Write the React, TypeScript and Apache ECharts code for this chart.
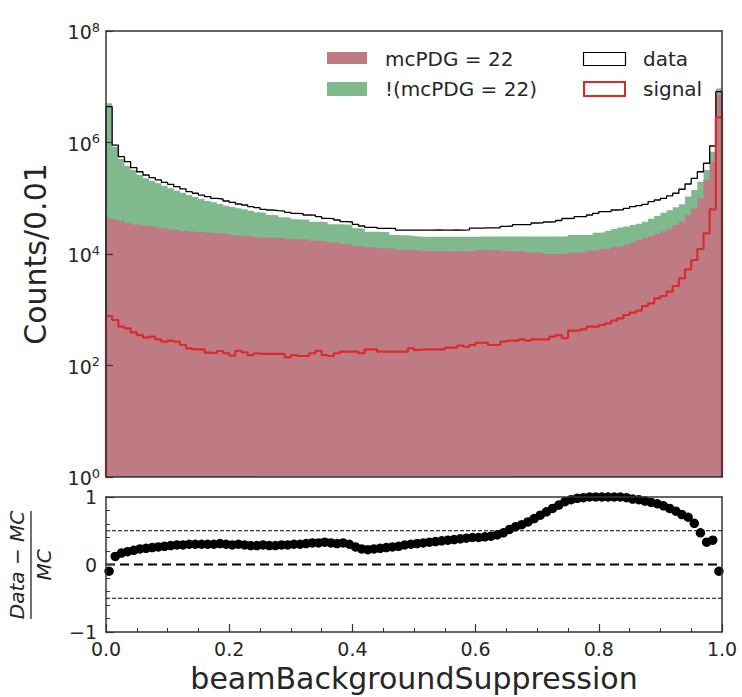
import React, { useEffect, useRef } from "react";
import * as echarts from "echarts";

const N_BINS = 100;
const BIN_WIDTH = 0.01;

// Black step histogram: data
const dataCounts = [
  4.39e6, 9.0e5, 5.56e5, 4.53e5, 3.53e5, 2.99e5, 2.61e5, 2.34e5, 2.13e5, 1.93e5,
  1.78e5, 1.61e5, 1.47e5, 1.31e5, 1.23e5, 1.14e5, 1.07e5, 9.98e4, 9.7e4, 8.93e4,
  8.46e4, 7.89e4, 7.57e4, 7.05e4, 6.77e4, 6.34e4, 6.15e4, 5.98e4, 5.9e4, 5.6e4,
  5.37e4, 5.3e4, 5.01e4, 5.0e4, 4.67e4, 4.37e4, 4.3e4, 4.07e4, 3.8e4, 3.75e4,
  3.41e4, 3.18e4, 3.01e4, 3.0e4, 2.89e4, 2.88e4, 2.87e4, 2.69e4, 2.69e4, 2.68e4,
  2.69e4, 2.69e4, 2.68e4, 2.7e4, 2.69e4, 2.68e4, 2.7e4, 2.69e4, 2.7e4, 2.9e4,
  2.92e4, 2.93e4, 2.93e4, 2.95e4, 3.14e4, 3.16e4, 3.36e4, 3.37e4, 3.38e4, 3.6e4,
  3.62e4, 3.75e4, 3.77e4, 3.99e4, 4.33e4, 4.35e4, 4.67e4, 4.7e4, 5.01e4, 5.37e4,
  5.74e4, 5.76e4, 6.15e4, 6.17e4, 6.6e4, 7.05e4, 7.35e4, 7.79e4, 8.67e4, 9.3e4,
  9.98e4, 1.1e5, 1.23e5, 1.45e5, 1.8e5, 2.28e5, 2.99e5, 4.24e5, 8.65e5, 8.15e6,
];

// Top of the stacked MC (mcPDG = 22 + !(mcPDG = 22))
const mcTotal = [
  5.05e6, 8.41e5, 5.06e5, 3.84e5, 3.21e5, 2.61e5, 2.28e5, 2.04e5, 1.85e5, 1.68e5,
  1.51e5, 1.37e5, 1.26e5, 1.14e5, 1.05e5, 9.7e4, 8.93e4, 8.46e4, 7.89e4, 7.35e4,
  6.97e4, 6.6e4, 6.34e4, 5.98e4, 5.6e4, 5.51e4, 5.01e4, 4.95e4, 4.55e4, 4.5e4,
  4.19e4, 4.15e4, 4.1e4, 3.8e4, 3.78e4, 3.75e4, 3.41e4, 3.4e4, 3.38e4, 3.35e4,
  2.89e4, 2.87e4, 2.51e4, 2.5e4, 2.48e4, 2.46e4, 2.19e4, 2.18e4, 2.16e4, 2.1e4,
  2.05e4, 2.04e4, 2.04e4, 2.03e4, 2.03e4, 2.04e4, 2.03e4, 2.04e4, 2.03e4, 2.04e4,
  2.05e4, 2.06e4, 2.06e4, 2.06e4, 2.06e4, 2.05e4, 2.06e4, 2.05e4, 2.06e4, 2.06e4,
  2.07e4, 2.06e4, 2.07e4, 2.07e4, 2.08e4, 2.19e4, 2.19e4, 2.2e4, 2.2e4, 2.41e4,
  2.43e4, 2.6e4, 2.8e4, 3.0e4, 3.1e4, 3.3e4, 3.5e4, 3.8e4, 4.3e4, 4.8e4,
  5.5e4, 6.1e4, 6.9e4, 7.8e4, 1.07e5, 1.41e5, 1.98e5, 3.21e5, 6.84e5, 9.3e6,
];

// mcPDG = 22 component
const mcPhoton = [
  4.37e4, 4.21e4, 3.91e4, 3.65e4, 3.38e4, 3.3e4, 3.18e4, 3.09e4, 2.98e4, 2.86e4,
  2.75e4, 2.69e4, 2.58e4, 2.53e4, 2.48e4, 2.45e4, 2.4e4, 2.38e4, 2.34e4, 2.28e4,
  2.19e4, 2.14e4, 2.1e4, 2.04e4, 1.97e4, 1.96e4, 1.96e4, 1.95e4, 1.95e4, 1.85e4,
  1.84e4, 1.84e4, 1.83e4, 1.72e4, 1.71e4, 1.7e4, 1.6e4, 1.6e4, 1.51e4, 1.5e4,
  1.39e4, 1.38e4, 1.32e4, 1.31e4, 1.27e4, 1.27e4, 1.26e4, 1.18e4, 1.18e4, 1.18e4,
  1.17e4, 1.13e4, 1.13e4, 1.13e4, 1.13e4, 1.12e4, 1.13e4, 1.13e4, 1.12e4, 1.13e4,
  1.18e4, 1.18e4, 1.17e4, 1.18e4, 1.13e4, 1.13e4, 1.12e4, 1.13e4, 1.06e4, 1.06e4,
  1.05e4, 1.0e4, 1.0e4, 1.01e4, 1.0e4, 1.06e4, 1.06e4, 1.07e4, 1.15e4, 1.16e4,
  1.23e4, 1.24e4, 1.35e4, 1.36e4, 1.5e4, 1.62e4, 1.78e4, 1.92e4, 2.1e4, 2.3e4,
  2.55e4, 2.85e4, 3.3e4, 3.8e4, 5.01e4, 6.6e4, 9.98e4, 2.13e5, 4.53e5, 7.11e6,
];

// Red step histogram: signal
const signalCounts = [
  773, 655, 497, 465, 394, 352, 315, 329, 295, 267,
  279, 267, 233, 203, 195, 195, 170, 166, 182, 166,
  150, 184, 173, 154, 166, 161, 161, 161, 161, 140,
  154, 148, 148, 166, 184, 154, 148, 166, 177, 177,
  177, 166, 195, 195, 177, 177, 177, 177, 177, 203,
  190, 195, 195, 195, 195, 209, 209, 227, 217, 233,
  256, 256, 233, 233, 267, 279, 279, 295, 279, 295,
  295, 295, 329, 352, 308, 421, 421, 446, 497, 497,
  533, 571, 636, 703, 805, 885, 962, 1167, 1306, 1604,
  1765, 2108, 2669, 3665, 5320, 7800, 12300, 23500, 63400, 2.81e6,
];

// (Data - MC) / MC per bin
const ratioValues = [
  -0.1, 0.12, 0.17, 0.19, 0.21, 0.23, 0.24, 0.25, 0.26, 0.27,
  0.28, 0.29, 0.29, 0.3, 0.3, 0.3, 0.3, 0.3, 0.31, 0.3,
  0.29, 0.3, 0.29, 0.28, 0.28, 0.29, 0.28, 0.28, 0.29, 0.29,
  0.3, 0.3, 0.31, 0.32, 0.32, 0.33, 0.32, 0.31, 0.32, 0.3,
  0.26, 0.23, 0.22, 0.23, 0.24, 0.25, 0.26, 0.27, 0.29, 0.3,
  0.31, 0.32, 0.33, 0.34, 0.35, 0.36, 0.37, 0.38, 0.39, 0.4,
  0.4, 0.41, 0.42, 0.44, 0.47, 0.52, 0.56, 0.59, 0.63, 0.68,
  0.73, 0.78, 0.83, 0.88, 0.93, 0.96, 0.98, 0.99, 1.0, 1.0,
  1.0, 1.0, 1.0, 1.0, 0.99, 0.97, 0.96, 0.94, 0.92, 0.9,
  0.87, 0.83, 0.79, 0.74, 0.7, 0.61, 0.47, 0.33, 0.36, -0.1,
];

const countLabelExponents = [0, 2, 4, 6, 8];
const xTickLabels = ["0.0", "0.2", "0.4", "0.6", "0.8", "1.0"];
const ratioTickLabels = ["\u22121", "0", "1"];
const thinRefLines = [0.5, -0.5];
const thickRefLine = 0;

const legendEntries = ["mcPDG = 22", "!(mcPDG = 22)", "data", "signal"];

const FONT = "DejaVu Sans";
const TXT = "#262626";
const AX = "#333";
const C_PHOTON = "#bf7b83";
const C_OTHER = "#7fb98d";
const C_SIGNAL = "#dc2a2c";

function stepPoints(values: number[], closeToBase: boolean) {
  const pts: number[][] = values.map((v, i) => [i * BIN_WIDTH, v]);
  pts.push([N_BINS * BIN_WIDTH, values[values.length - 1]]);
  if (closeToBase) {
    pts.unshift([0, 1]);
    pts.push([N_BINS * BIN_WIDTH, 1]);
  }
  return pts;
}

export default function App() {
  const ref = useRef<HTMLDivElement>(null);

  useEffect(() => {
    document.body.style.margin = "0";
    if (!ref.current) return;
    const chart = echarts.init(ref.current, undefined, { renderer: "svg" });

    const axisLineStyle = { show: true, onZero: false, lineStyle: { color: AX, width: 1.5 } };

    const lineOnlyAxis = (extra: any) => ({
      axisLine: axisLineStyle,
      axisTick: { show: false },
      axisLabel: { show: false },
      splitLine: { show: false },
      z: 5,
      ...extra,
    });

    const option: any = {
      animation: false,
      backgroundColor: "#fff",
      grid: [
        { left: 106, top: 31, width: 616, height: 446 },
        { left: 106, top: 497, width: 616, height: 135 },
      ],
      xAxis: [
        lineOnlyAxis({ type: "value", gridIndex: 0, min: 0, max: 1, position: "bottom" }),
        lineOnlyAxis({ type: "value", gridIndex: 0, min: 0, max: 1, position: "top" }),
        {
          type: "value",
          gridIndex: 1,
          min: 0,
          max: 1,
          interval: 0.2,
          position: "bottom",
          z: 5,
          axisLine: axisLineStyle,
          axisTick: { show: true, inside: true, length: 8, lineStyle: { color: AX, width: 1.2 } },
          minorTick: { show: true, splitNumber: 4, length: 4, lineStyle: { color: AX, width: 1 } },
          axisLabel: {
            show: true,
            margin: 7,
            fontSize: 19,
            fontFamily: FONT,
            color: TXT,
            showMinLabel: true,
            showMaxLabel: true,
            formatter: (v: number) => xTickLabels[Math.round(v / 0.2)] ?? "",
          },
          splitLine: { show: false },
          name: "beamBackgroundSuppression",
          nameLocation: "middle",
          nameGap: 31,
          nameTextStyle: { fontSize: 30, fontFamily: FONT, color: TXT },
        },
        lineOnlyAxis({ type: "value", gridIndex: 1, min: 0, max: 1, position: "top" }),
      ],
      yAxis: [
        lineOnlyAxis({ type: "log", logBase: 10, gridIndex: 0, min: 1, max: 1e8, position: "left" }),
        {
          type: "value",
          gridIndex: 0,
          min: 0,
          max: 8,
          interval: 2,
          position: "left",
          z: 5,
          axisLine: { show: false, onZero: false },
          axisTick: { show: true, inside: true, length: 7, lineStyle: { color: AX, width: 1.2 } },
          axisLabel: {
            show: true,
            margin: 6,
            showMinLabel: true,
            showMaxLabel: true,
            formatter: (v: number) =>
              countLabelExponents.includes(v) ? `{b|10}{s|${v}}` : "",
            rich: {
              b: { fontSize: 19, fontFamily: FONT, color: TXT, lineHeight: 21, verticalAlign: "bottom" },
              s: { fontSize: 13, fontFamily: FONT, color: TXT, lineHeight: 12, verticalAlign: "top" },
            },
          },
          splitLine: { show: false },
          name: "Counts/0.01",
          nameLocation: "middle",
          nameGap: 56,
          nameRotate: 90,
          nameTextStyle: { fontSize: 30, fontFamily: FONT, color: TXT },
        },
        lineOnlyAxis({ type: "value", gridIndex: 0, min: 0, max: 1, position: "right" }),
        {
          type: "value",
          gridIndex: 1,
          min: -1,
          max: 1,
          interval: 1,
          position: "left",
          z: 5,
          axisLine: axisLineStyle,
          axisTick: { show: true, inside: true, length: 8, lineStyle: { color: AX, width: 1.2 } },
          minorTick: { show: true, splitNumber: 5, length: 4, lineStyle: { color: AX, width: 1 } },
          axisLabel: {
            show: true,
            margin: 9,
            fontSize: 19,
            lineHeight: 18,
            fontFamily: FONT,
            color: TXT,
            showMinLabel: true,
            showMaxLabel: true,
            formatter: (v: number) => ratioTickLabels[Math.round(v) + 1] ?? "",
          },
          splitLine: { show: false },
        },
        lineOnlyAxis({ type: "value", gridIndex: 1, min: 0, max: 1, position: "right" }),
      ],
      series: [
        {
          name: legendEntries[1],
          type: "line",
          xAxisIndex: 0,
          yAxisIndex: 0,
          step: "end",
          data: stepPoints(mcTotal, false),
          symbol: "none",
          showSymbol: false,
          silent: true,
          lineStyle: { width: 0, opacity: 0 },
          areaStyle: { color: C_OTHER, opacity: 1, origin: "start" },
          z: 1,
        },
        {
          name: legendEntries[0],
          type: "line",
          xAxisIndex: 0,
          yAxisIndex: 0,
          step: "end",
          data: stepPoints(mcPhoton, false),
          symbol: "none",
          showSymbol: false,
          silent: true,
          lineStyle: { width: 0, opacity: 0 },
          areaStyle: { color: C_PHOTON, opacity: 1, origin: "start" },
          z: 2,
        },
        {
          name: legendEntries[2],
          type: "line",
          xAxisIndex: 0,
          yAxisIndex: 0,
          step: "end",
          data: stepPoints(dataCounts, true),
          symbol: "none",
          showSymbol: false,
          silent: true,
          lineStyle: { color: "#000", width: 1.3 },
          z: 3,
        },
        {
          name: legendEntries[3],
          type: "line",
          xAxisIndex: 0,
          yAxisIndex: 0,
          step: "end",
          data: stepPoints(signalCounts, true),
          symbol: "none",
          showSymbol: false,
          silent: true,
          lineStyle: { color: C_SIGNAL, width: 2.2 },
          z: 4,
        },
        {
          name: "zero",
          type: "line",
          xAxisIndex: 2,
          yAxisIndex: 3,
          data: [
            [0, thickRefLine],
            [1, thickRefLine],
          ],
          symbol: "none",
          silent: true,
          lineStyle: { color: "#000", width: 2.2, type: [9, 5] },
          z: 3,
        },
        ...thinRefLines.map((y) => ({
          name: "ref" + y,
          type: "line",
          xAxisIndex: 2,
          yAxisIndex: 3,
          data: [
            [0, y],
            [1, y],
          ],
          symbol: "none",
          silent: true,
          lineStyle: { color: "#000", width: 1, type: [4, 2] },
          z: 3,
        })),
        {
          name: "ratio",
          type: "scatter",
          xAxisIndex: 2,
          yAxisIndex: 3,
          data: ratioValues.map((r, i) => [(i + 0.5) * BIN_WIDTH, r]),
          symbol: "circle",
          symbolSize: 9.5,
          itemStyle: { color: "#000", opacity: 1 },
          silent: true,
          z: 4,
        },
      ],
      graphic: [
        // legend, left column
        { type: "rect", z: 100, shape: { x: 327, y: 52, width: 40, height: 12 }, style: { fill: C_PHOTON } },
        {
          type: "text", z: 100, x: 385, y: 59,
          style: { text: legendEntries[0], fontSize: 20, fontFamily: FONT, fill: TXT, verticalAlign: "middle" },
        },
        { type: "rect", z: 100, shape: { x: 327, y: 82, width: 40, height: 14 }, style: { fill: C_OTHER } },
        {
          type: "text", z: 100, x: 385, y: 89,
          style: { text: legendEntries[1], fontSize: 20, fontFamily: FONT, fill: TXT, verticalAlign: "middle" },
        },
        // legend, right column
        {
          type: "rect", z: 100, shape: { x: 583.5, y: 52.5, width: 42, height: 13 },
          style: { fill: "#fff", stroke: "#000", lineWidth: 1.2 },
        },
        {
          type: "text", z: 100, x: 643, y: 59,
          style: { text: legendEntries[2], fontSize: 20, fontFamily: FONT, fill: TXT, verticalAlign: "middle" },
        },
        {
          type: "rect", z: 100, shape: { x: 584, y: 82, width: 41, height: 14 },
          style: { fill: "#fff", stroke: C_SIGNAL, lineWidth: 2 },
        },
        {
          type: "text", z: 100, x: 643, y: 89,
          style: { text: legendEntries[3], fontSize: 20, fontFamily: FONT, fill: TXT, verticalAlign: "middle" },
        },
        // ratio axis title: (Data - MC) / MC
        {
          type: "group",
          x: 31,
          y: 565,
          rotation: Math.PI / 2,
          children: [
            {
              type: "text", x: 0, y: -14,
              style: {
                text: "Data \u2212 MC", fontSize: 20, fontStyle: "italic", fontFamily: FONT,
                fill: TXT, align: "center", verticalAlign: "middle",
              },
            },
            {
              type: "line",
              shape: { x1: -54, y1: 0, x2: 54, y2: 0 },
              style: { stroke: TXT, lineWidth: 1.3 },
            },
            {
              type: "text", x: 0, y: 13,
              style: {
                text: "MC", fontSize: 20, fontStyle: "italic", fontFamily: FONT,
                fill: TXT, align: "center", verticalAlign: "middle",
              },
            },
          ],
        },
      ],
    };

    chart.setOption(option);
    return () => chart.dispose();
  }, []);

  return (
    <div
      ref={ref}
      style={{ position: "fixed", left: 0, top: 0, width: 742, height: 697, background: "#fff" }}
    />
  );
}
